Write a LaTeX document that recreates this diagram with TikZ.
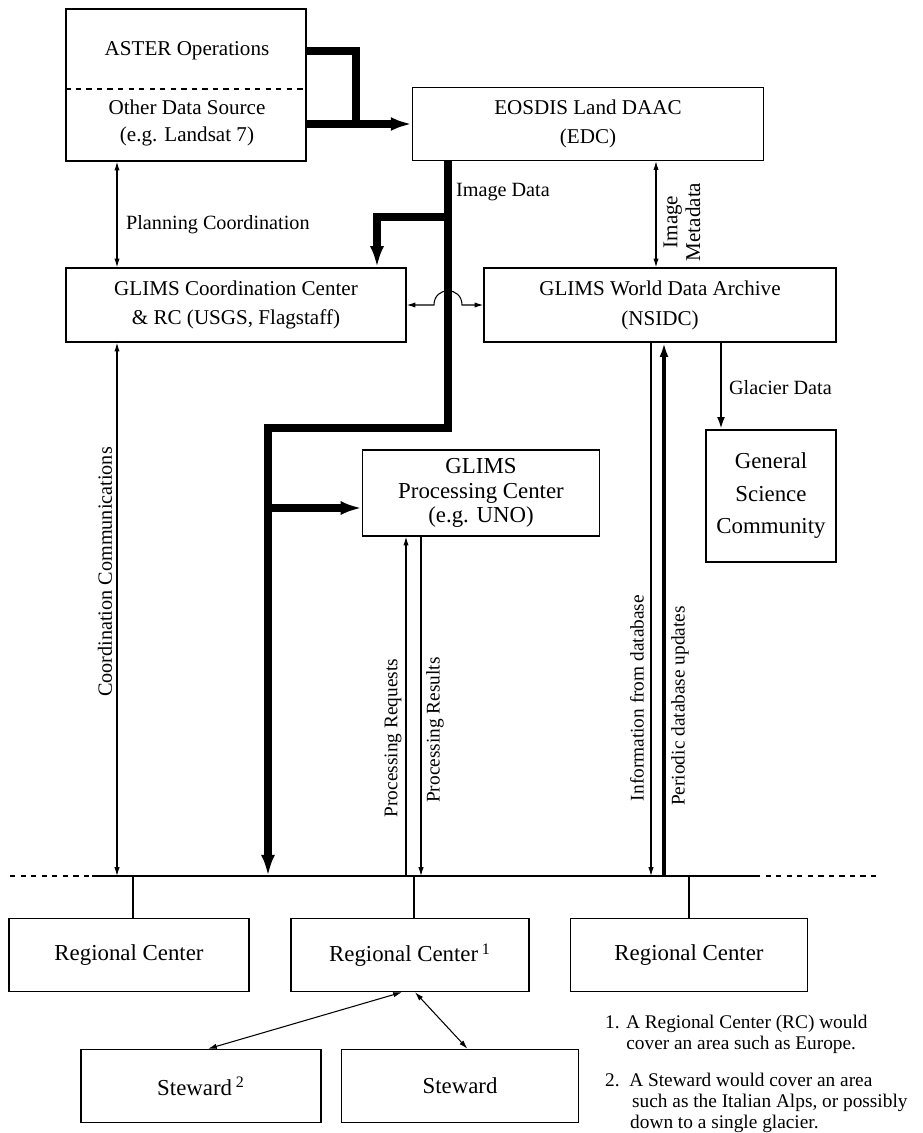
\documentclass[tikz,border=0pt]{standalone}
\usepackage{fontspec}
\setmainfont{Liberation Serif}
\usetikzlibrary{arrows.meta}
\tikzset{tbox/.style={draw, line width=0.8pt, inner sep=2pt, align=center,
        font=\fontsize{12}{16.5}\selectfont},
    lbl/.style={inner sep=1pt, font=\fontsize{11.5}{13}\selectfont},
    sideLbl/.style={lbl, rotate=90, align=center, font=\fontsize{11}{12}\selectfont},
    dataPipe/.style={line width=4.2pt, -{Latex[length=12pt,width=8pt]}},
    oneWay/.style={line width=0.6pt, -{Latex[length=5pt,width=3pt]}},
    twoWay/.style={line width=0.6pt, {Latex[length=5pt,width=3pt]}-{Latex[length=5pt,width=3pt]}},
    busDash/.style={line width=0.7pt, dash pattern=on 3pt off 3pt},
    }
\begin{document}
\begin{tikzpicture}[x=0.02cm, y=-0.02cm]
	\useasboundingbox (0,0) rectangle (923,1133);
	% sources and archives
	\node[tbox, minimum width=4.8cm, minimum height=3.04cm] (asterBox) at (186,85) {};
	\node[lbl, font=\fontsize{12}{14}\selectfont] (asterOps) at (187,51) {ASTER Operations};
	\node[lbl, align=center, font=\fontsize{12}{15}\selectfont] (otherSrc) at (187,123) {Other Data Source\\(e.g. Landsat 7)};
	\coordinate (asterSplit) at (186,89);
	\draw[busDash, line width=0.6pt] (asterBox.west |- asterSplit) -- (asterBox.east |- asterSplit);
	\node[tbox, minimum width=7.02cm, minimum height=1.46cm] (edcBox) at (588,124) {EOSDIS Land DAAC\\(EDC)};
	\node[tbox, minimum width=6.8cm, minimum height=1.48cm, font=\fontsize{12}{17}\selectfont] (ccBox) at (236,305) {GLIMS Coordination Center\\\& RC (USGS, Flagstaff)};
	\node[tbox, minimum width=7.04cm, minimum height=1.48cm, font=\fontsize{12}{17}\selectfont] (wdaBox) at (660,305) {GLIMS World Data Archive\\(NSIDC)};
	\node[tbox, minimum width=4.74cm, minimum height=1.72cm, font=\fontsize{13}{13.8}\selectfont] (pcBox) at (481,493) {GLIMS\\Processing Center\\(e.g. UNO)};
	\node[tbox, minimum width=2.6cm, minimum height=2.64cm, font=\fontsize{13}{18.5}\selectfont] (gscBox) at (771,496) {General\\Science\\Community};
	% regional level
	\node[tbox, minimum width=4.8cm, minimum height=1.46cm, font=\fontsize{13}{15}\selectfont] (rcLeft) at (129,955) {Regional Center};
	\node[tbox, minimum width=4.76cm, minimum height=1.46cm, font=\fontsize{13}{15}\selectfont] (rcMid) at (410,955) {Regional Center\,\textsuperscript{1}};
	\node[tbox, minimum width=4.74cm, minimum height=1.46cm, font=\fontsize{13}{15}\selectfont] (rcRight) at (689,955) {Regional Center};
	\node[tbox, minimum width=4.8cm, minimum height=1.46cm, font=\fontsize{13}{15}\selectfont] (stewardA) at (201,1086) {Steward\,\textsuperscript{2}};
	\node[tbox, minimum width=4.74cm, minimum height=1.46cm, font=\fontsize{13}{15}\selectfont] (stewardB) at (460,1086) {Steward};

	\coordinate (busFarL) at (10,876);
	\coordinate (busL) at (92,876);
	\coordinate (busR) at (755,876);
	\coordinate (busFarR) at (880,876);
	\draw[line width=0.8pt] (busL) -- (busR);
	\draw[busDash] (busFarL) -- (busL);
	\draw[busDash] (busR) -- (busFarR);
	\draw[line width=0.6pt] ([xshift=0.08cm]rcLeft.north) -- ([xshift=0.08cm]rcLeft.north |- busL);
	\draw[line width=0.6pt] ([xshift=0.08cm]rcMid.north) -- ([xshift=0.08cm]rcMid.north |- busL);
	\draw[line width=0.6pt] (rcRight.north) -- (rcRight.north |- busL);

	% image data
	\coordinate (imgBend) at (448,428);
	\coordinate (imgLeft) at (268,428);
	\coordinate (ccFeed) at (377,217);
	\coordinate (pcFeed) at (268,508);
	\coordinate (asterJoin) at (356,124);
	\draw[line width=4.2pt] (asterBox.east |- asterOps) -| (asterJoin);
	\draw[dataPipe] (asterBox.east |- asterJoin) -- (edcBox.west |- asterJoin);
	\draw[dataPipe] (edcBox.south -| imgBend) -- (imgBend) -- (imgLeft) -- (imgLeft |- busL);
	\draw[dataPipe] (imgBend |- ccFeed) -- (ccFeed) -- (ccFeed |- ccBox.north);
	\draw[dataPipe] (pcFeed) -- (pcFeed -| pcBox.west);
	\node[lbl, anchor=west] (imgLbl) at (454,192) {Image Data};

	% coordination
	\coordinate (planX) at (117,225);
	\draw[twoWay] (asterBox.south -| planX) -- (ccBox.north -| planX);
	\node[lbl, anchor=west] (planLbl) at (124,225) {Planning Coordination};
	\draw[twoWay] (ccBox.south -| planX) -- (busL -| planX);
	\node[sideLbl, font=\fontsize{11.5}{12}\selectfont] (coordLbl) at (105,572) {Coordination Communications};
	\coordinate (hop) at (448,305);
	\draw[twoWay] (ccBox.east) -- ([xshift=-0.28cm]hop) .. controls +(0,0.38cm) and +(0,0.38cm) .. ([xshift=0.28cm]hop) -- (wdaBox.west);

	\coordinate (metaX) at (656,220);
	\draw[twoWay] (edcBox.south -| metaX) -- (wdaBox.north -| metaX);
	\node[sideLbl, font=\fontsize{12}{13}\selectfont] (metaLbl) at (682,222) {Image\\Metadata};

	% processing
	\coordinate (reqX) at (406,700);
	\coordinate (resX) at (421,700);
	\draw[oneWay] (busL -| reqX) -- (pcBox.south -| reqX);
	\draw[oneWay] (pcBox.south -| resX) -- (busL -| resX);
	\node[sideLbl] (reqLbl) at (393,738) {Processing Requests};
	\node[sideLbl] (resLbl) at (435,730) {Processing Results};

	% archive traffic
	\coordinate (infoX) at (651,700);
	\coordinate (updX) at (664,700);
	\draw[oneWay] (wdaBox.south -| infoX) -- (busL -| infoX);
	\draw[line width=2.4pt, -{Latex[length=8pt,width=5pt]}] (busL -| updX) -- (wdaBox.south -| updX);
	\node[sideLbl] (infoLbl) at (637,698) {Information from database};
	\node[sideLbl] (updLbl) at (680,706) {Periodic database updates};
	\coordinate (glacX) at (721,388);
	\draw[line width=1.5pt, -{Latex[length=7pt,width=4.5pt]}] (wdaBox.south -| glacX) -- (gscBox.north -| glacX);
	\node[lbl, anchor=west] (glacLbl) at (727,388) {Glacier Data};

	% stewards
	\draw[twoWay] ([xshift=-0.16cm]rcMid.south) -- ([xshift=0.14cm]stewardA.north);
	\draw[twoWay] ([xshift=0.1cm]rcMid.south) -- ([xshift=0.15cm]stewardB.north);

	\node[lbl, anchor=north west, align=left, font=\fontsize{11}{12}\selectfont] (noteOne) at (603,1013) {1. A Regional Center (RC) would\\\hspace*{1.1em}cover an area such as Europe.};
	\node[lbl, anchor=north west, align=left, font=\fontsize{11}{12}\selectfont] (noteTwo) at (603,1071) {2.\ \ A Steward would cover an area\\\hspace*{1.4em}such as the Italian Alps, or possibly\\\hspace*{1.3em}down to a single glacier.};
\end{tikzpicture}
\end{document}
